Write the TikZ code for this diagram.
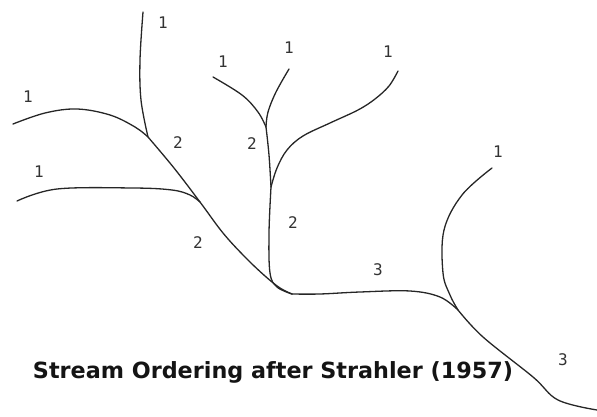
\documentclass[tikz,border=0pt]{standalone}
\usepackage{fontspec}
\setmainfont{Liberation Sans}
\newfontfamily\titlefont{DejaVu Sans}
\newfontfamily\labelfont{DejaVu Sans Mono}
\begin{document}
\begin{tikzpicture}[x=1pt,y=-1pt,
  stream/.style={draw=black!85, line width=1.3pt, line cap=round, line join=round},
  order/.style={text=black!80, font=\labelfont\fontsize{16}{16}\selectfont, inner sep=0pt},
  caption/.style={text=black!92, font=\titlefont\bfseries\fontsize{22.3}{24}\selectfont, inner sep=0pt}]
\useasboundingbox (0,0) rectangle (597,417);

% confluences
\coordinate (j1) at (148,137);
\coordinate (j2) at (200,202);
\coordinate (j3) at (266,127);
\coordinate (j4) at (271,187);
\coordinate (j5) at (292,294);
\coordinate (j6) at (458,310);
\coordinate (mouth) at (597,410);

% first-order headwaters
\draw[stream] plot[smooth,tension=0.6] coordinates {(143,12) (140,60) (141,100) (148,137)};
\draw[stream] plot[smooth,tension=0.6] coordinates {(13,124) (45,113) (77,109) (110,115) (135,127) (148,137)};
\draw[stream] plot[smooth,tension=0.6] coordinates {(17,201) (57,189) (133,188) (172,190) (190,195) (200,202)};
\draw[stream] plot[smooth,tension=0.6] coordinates {(213,77) (242,95) (258,112) (266,127)};
\draw[stream] plot[smooth,tension=0.6] coordinates {(289,69) (276,92) (268,112) (266,127)};
\draw[stream] plot[smooth,tension=0.6] coordinates {(398,71) (389,86) (375,99) (358,110) (330,123) (303,136) (287,150) (277,168) (271,187)};
\draw[stream] plot[smooth,tension=0.6] coordinates {(492,168) (462,195) (444,230) (443,273) (450,295) (458,310)};

% second-order reaches
\draw[stream] plot[smooth,tension=0.6] coordinates {(148,137) (174,168) (200,202) (223,233) (245,257) (265,276) (280,288) (292,294)};
\draw[stream] plot[smooth,tension=0.6] coordinates {(266,127) (269,155) (271,187)};
\draw[stream] plot[smooth,tension=0.6] coordinates {(271,187) (269,233) (270,273) (277,287) (292,294)};

% third-order trunk
\draw[stream] plot[smooth,tension=0.6] coordinates {(292,294) (320,294) (360,292) (410,291) (440,297) (458,310)};
\draw[stream] plot[smooth,tension=0.6] coordinates {(458,310) (483,337) (533,377) (558,400) (597,410)};

% stream orders
\node[order] (o1a) at (163,23) {1};
\node[order] (o1b) at (28,97) {1};
\node[order] (o1c) at (39,172) {1};
\node[order] (o1d) at (223,62) {1};
\node[order] (o1e) at (289,48) {1};
\node[order] (o1f) at (388,52) {1};
\node[order] (o1g) at (498,152) {1};
\node[order] (o2a) at (178,143) {2};
\node[order] (o2b) at (252,144) {2};
\node[order] (o2c) at (293,223) {2};
\node[order] (o2d) at (198,243) {2};
\node[order] (o3a) at (378,270) {3};
\node[order] (o3b) at (563,360) {3};

\node[caption] (title) at (273,372) {Stream Ordering after Strahler (1957)};
\end{tikzpicture}
\end{document}
